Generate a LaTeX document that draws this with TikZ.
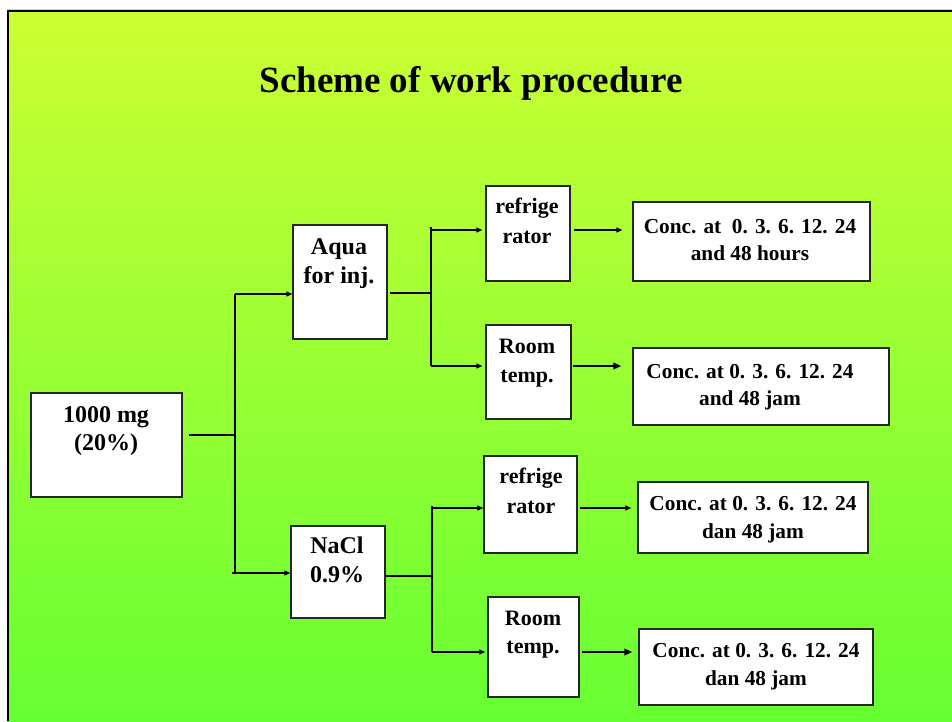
\documentclass[tikz,border=0pt]{standalone}
\usepackage{fontspec}
\setmainfont{Liberation Serif}
\usetikzlibrary{arrows.meta,calc}
\definecolor{topg}{RGB}{204,255,51}
\definecolor{botg}{RGB}{102,255,51}
\newcommand\fsz[2]{\bfseries\fontsize{#1}{#2}\selectfont}
\newcommand\twoline[2]{\begin{tabular}[t]{@{}c@{}}#1\\#2\end{tabular}}
\tikzset{
  box/.style={draw=black!85, line width=1.3pt, fill=white, inner sep=0pt},
  lbl/.style={anchor=base, inner sep=0pt},
  wire/.style={line width=1.1pt, black},
  arr/.style={wire, -{Triangle[length=6pt,width=5pt]}},
  thickarr/.style={line width=2pt, black, -{Triangle[length=8pt,width=6.5pt]}},
}
\begin{document}
\begin{tikzpicture}[x=1pt,y=-1pt]
\useasboundingbox (0,0) rectangle (952,721);
\shade[top color=topg, bottom color=botg] (7,9) rectangle (952,721);
\draw[line width=2.5pt] (8,721) -- (8,11) -- (952,11);

\node[lbl, font=\fsz{37}{44}] (title) at (471,92) {Scheme of work procedure};

% boxes
\node[box, minimum width=151pt, minimum height=104pt] (mg)    at (106.5,445) {};
\node[box, minimum width=94pt,  minimum height=114pt] (aqua)  at (340,282) {};
\node[box, minimum width=94pt,  minimum height=92pt]  (nacl)  at (338,572) {};
\node[box, minimum width=84pt,  minimum height=95pt]  (ref1)  at (528,233.5) {};
\node[box, minimum width=85pt,  minimum height=94pt]  (room1) at (528.5,372) {};
\node[box, minimum width=237pt, minimum height=79pt]  (conc1) at (751.5,241.5) {};
\node[box, minimum width=256pt, minimum height=77pt]  (conc2) at (761,386.5) {};
\node[box, minimum width=93pt,  minimum height=97pt]  (ref2)  at (530.5,504.5) {};
\node[box, minimum width=91pt,  minimum height=100pt] (room2) at (533.5,647) {};
\node[box, minimum width=230pt, minimum height=71pt]  (conc3) at (753,517.5) {};
\node[box, minimum width=234pt, minimum height=76pt]  (conc4) at (756,667) {};

% texts
\node[lbl, font=\fsz{24}{28}] (mgt)    at (106,422) {\twoline{1000 mg}{(20\%)}};
\node[lbl, font=\fsz{24}{29}] (aquat)  at (339,254) {\twoline{Aqua}{for inj.}};
\node[lbl, font=\fsz{24}{29}] (naclt)  at (337,553) {\twoline{NaCl}{0.9\%}};
\node[lbl, font=\fsz{22}{30}] (ref1t)  at (527,213) {\twoline{refrige}{rator}};
\node[lbl, font=\fsz{21.3}{27}] (conc1t) at (750,233) {\twoline{Conc. at~~0. 3. 6. 12. 24}{and 48 hours}};
\node[lbl, font=\fsz{22}{29}] (room1t) at (527,353) {\twoline{Room}{temp.}};
\node[lbl, font=\fsz{21.3}{27}] (conc2t) at (750,378) {\twoline{Conc. at 0. 3. 6. 12. 24}{and 48 jam}};
\node[lbl, font=\fsz{22}{30}] (ref2t)  at (531,483) {\twoline{refrige}{rator}};
\node[lbl, font=\fsz{21.3}{28}] (conc3t) at (753,510) {\twoline{Conc. at 0. 3. 6. 12. 24}{dan 48 jam}};
\node[lbl, font=\fsz{22}{28}] (room2t) at (533,625) {\twoline{Room}{temp.}};
\node[lbl, font=\fsz{21.3}{28}] (conc4t) at (756,657) {\twoline{Conc. at 0. 3. 6. 12. 24}{dan 48 jam}};

% first split
\coordinate (ja)  at (235,435);
\coordinate (jat) at (235,294);
\coordinate (jab) at (235,573);
\draw[wire] ([xshift=6pt]mg.east |- ja) -- (ja);
\draw[wire] (jat) -- (jab);
\draw[arr] (jat) -- (jat -| aqua.west);
\draw[arr] ([xshift=-3pt]jab) -- (jab -| nacl.west);

% aqua split
\coordinate (jb)  at (431,293);
\coordinate (jbt) at (431,230);
\coordinate (jbb) at (431,366);
\draw[wire] ([xshift=2pt]aqua.east |- jb) -- (jb);
\draw[wire] ([yshift=3pt]jbt) -- (jbb);
\draw[arr, shorten >=3pt] (jbt) -- (jbt -| ref1.west);
\draw[arr, shorten >=3pt] (jbb) -- (jbb -| room1.west);
\draw[arr, shorten <=3pt, shorten >=10pt] (ref1.east |- jbt) -- (conc1.west |- jbt);
\draw[thickarr, shorten <=1pt, shorten >=11pt] (room1.east |- jbb) -- (conc2.west |- jbb);

% nacl split
\coordinate (jc)  at (432,576);
\coordinate (jct) at (432,508);
\coordinate (jcb) at (432,652);
\draw[wire] (nacl.east |- jc) -- (jc);
\draw[wire] ([yshift=2pt]jct) -- (jcb);
\draw[arr] (jct) -- (jct -| ref2.west);
\draw[arr, shorten >=2pt] (jcb) -- (jcb -| room2.west);
\draw[arr, shorten <=2pt, shorten >=6pt] (ref2.east |- jct) -- (conc3.west |- jct);
\draw[thickarr, shorten <=2pt, shorten >=6pt] (room2.east |- jcb) -- (conc4.west |- jcb);
\end{tikzpicture}
\end{document}
